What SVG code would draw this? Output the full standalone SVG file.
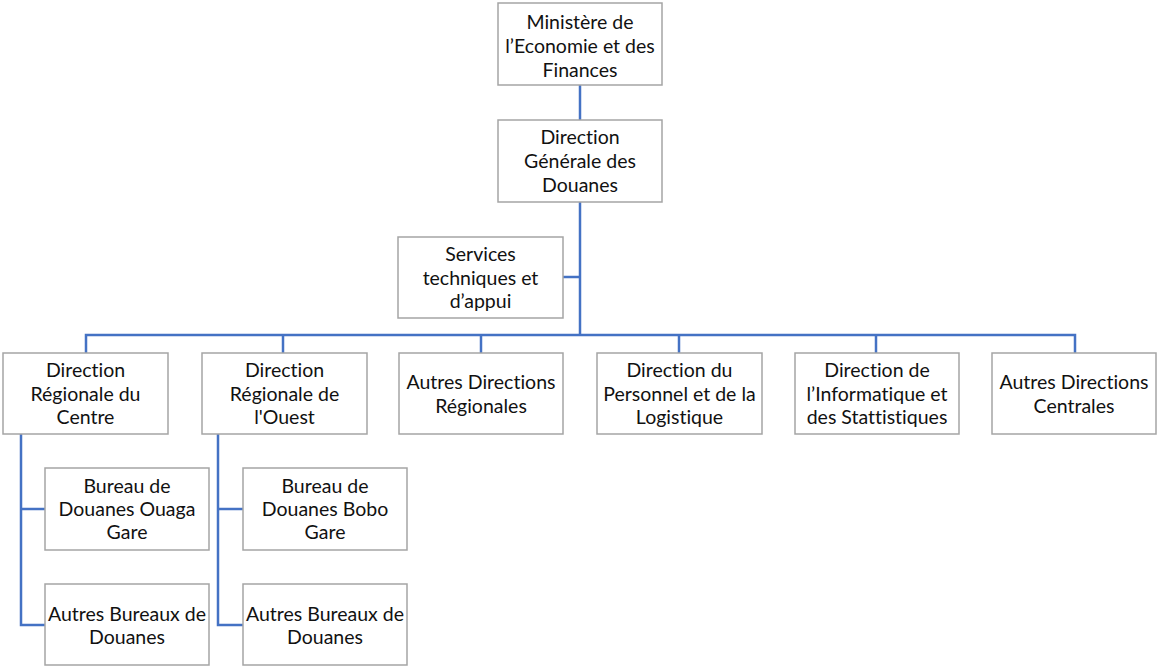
<svg xmlns="http://www.w3.org/2000/svg" width="1157" height="666" viewBox="0 0 1157 666">
<style>
.box{fill:#ffffff;stroke:#a5a5a5;stroke-width:1.5}
.lbl{font-family:Lato,"Open Sans","Liberation Sans",sans-serif;font-size:19.5px;fill:#111111;text-anchor:middle;font-variant-ligatures:none}
.con{fill:none;stroke:#4472c4;stroke-width:2.5}
</style>
<rect width="1157" height="666" fill="#ffffff"/>
<g id="connectors">
<path class="con" d="M580,85 V120"/>
<path class="con" d="M580,202 V335"/>
<path class="con" d="M563,277 H580"/>
<path class="con" d="M86,353 V335 H1075 V353"/>
<path class="con" d="M283,335 V353"/>
<path class="con" d="M481,335 V353"/>
<path class="con" d="M679,335 V353"/>
<path class="con" d="M876,335 V353"/>
<path class="con" d="M21,434 V625 H45"/>
<path class="con" d="M21,509 H45"/>
<path class="con" d="M218,434 V625 H243"/>
<path class="con" d="M218,509 H243"/>
</g>
<g id="ministere">
<rect class="box" x="498" y="3" width="164" height="82"/>
<text class="lbl" x="580" y="29">Ministère de</text>
<text class="lbl" x="580" y="53">l’Economie et des</text>
<text class="lbl" x="580" y="77">Finances</text>
</g>
<g id="dgd">
<rect class="box" x="498" y="120" width="164" height="82"/>
<text class="lbl" x="580" y="144">Direction</text>
<text class="lbl" x="580" y="168">Générale des</text>
<text class="lbl" x="580" y="192">Douanes</text>
</g>
<g id="services">
<rect class="box" x="398" y="237" width="165" height="81"/>
<text class="lbl" x="480.500" y="261">Services</text>
<text class="lbl" x="480.500" y="285">techniques et</text>
<text class="lbl" x="480.500" y="308">d’appui</text>
</g>
<g id="dr-centre">
<rect class="box" x="3" y="353" width="165" height="81"/>
<text class="lbl" x="85.500" y="377">Direction</text>
<text class="lbl" x="85.500" y="401">Régionale du</text>
<text class="lbl" x="85.500" y="424">Centre</text>
</g>
<g id="dr-ouest">
<rect class="box" x="202" y="353" width="165" height="81"/>
<text class="lbl" x="284.500" y="377">Direction</text>
<text class="lbl" x="284.500" y="401">Régionale de</text>
<text class="lbl" x="284.500" y="424">l'Ouest</text>
</g>
<g id="autres-dr">
<rect class="box" x="399" y="353" width="164" height="81"/>
<text class="lbl" x="481" y="389">Autres Directions</text>
<text class="lbl" x="481" y="413">Régionales</text>
</g>
<g id="dpl">
<rect class="box" x="597" y="353" width="165" height="81"/>
<text class="lbl" x="679.500" y="377">Direction du</text>
<text class="lbl" x="679.500" y="401">Personnel et de la</text>
<text class="lbl" x="679.500" y="424">Logistique</text>
</g>
<g id="dis">
<rect class="box" x="795" y="353" width="164" height="81"/>
<text class="lbl" x="877" y="377">Direction de</text>
<text class="lbl" x="877" y="401">l’Informatique et</text>
<text class="lbl" x="877" y="424">des Stattistiques</text>
</g>
<g id="autres-dc">
<rect class="box" x="992" y="353" width="164" height="81"/>
<text class="lbl" x="1074" y="389">Autres Directions</text>
<text class="lbl" x="1074" y="413">Centrales</text>
</g>
<g id="bureau-ouaga">
<rect class="box" x="45" y="468" width="164" height="82"/>
<text class="lbl" x="127" y="493">Bureau de</text>
<text class="lbl" x="127" y="516">Douanes Ouaga</text>
<text class="lbl" x="127" y="539">Gare</text>
</g>
<g id="autres-bureaux-centre">
<rect class="box" x="45" y="584" width="164" height="81"/>
<text class="lbl" x="127" y="621">Autres Bureaux de</text>
<text class="lbl" x="127" y="644">Douanes</text>
</g>
<g id="bureau-bobo">
<rect class="box" x="243" y="468" width="164" height="82"/>
<text class="lbl" x="325" y="493">Bureau de</text>
<text class="lbl" x="325" y="516">Douanes Bobo</text>
<text class="lbl" x="325" y="539">Gare</text>
</g>
<g id="autres-bureaux-ouest">
<rect class="box" x="243" y="584" width="164" height="81"/>
<text class="lbl" x="325" y="621">Autres Bureaux de</text>
<text class="lbl" x="325" y="644">Douanes</text>
</g>
</svg>
